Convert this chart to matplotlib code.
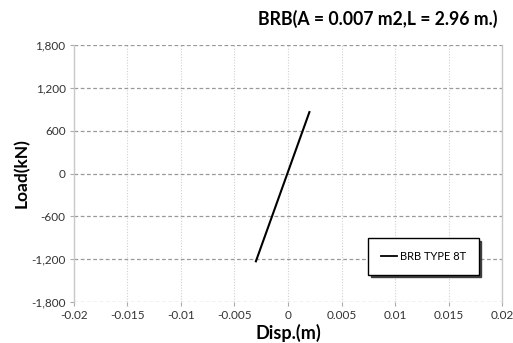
import matplotlib
matplotlib.use("Agg")
import matplotlib.pyplot as plt

# Load–displacement data for the brace
disp = [-0.003, 0.002]
load = [-1230, 860]
series_name = "BRB TYPE 8T"
title = "BRB(A = 0.007 m2,L = 2.96 m.)"

x_ticks = [-0.02, -0.015, -0.01, -0.005, 0, 0.005, 0.01, 0.015, 0.02]
x_labels = ["-0.02", "-0.015", "-0.01", "-0.005", "0", "0.005", "0.01", "0.015", "0.02"]
y_ticks = [-1800, -1200, -600, 0, 600, 1200, 1800]
y_labels = ["-1,800", "-1,200", "-600", "0", "600", "1,200", "1,800"]

plt.rcParams['font.family'] = ['Lato', 'DejaVu Sans']

fig = plt.figure(figsize=(5.13, 3.43), dpi=100)
ax = fig.add_axes([0.1442, 0.1195, 0.8344, 0.7493])

ax.plot(disp, load, color="black", lw=1.5, label=series_name, zorder=3)

ax.set_xlim(-0.02, 0.02)
ax.set_ylim(-1800, 1800)
ax.set_xticks(x_ticks)
ax.set_xticklabels(x_labels)
ax.set_yticks(y_ticks)
ax.set_yticklabels(y_labels)
ax.tick_params(axis="both", labelsize=8.5, colors="#333333", length=3, width=0.8,
               direction="out", pad=3)
ax.tick_params(axis="both", color="#aaaaaa")

# grid: dashed horizontals, faint dotted verticals
ax.yaxis.grid(True, linestyle=(0, (3, 2)), color="#999999", lw=0.9)
ax.xaxis.grid(True, linestyle=(0, (1, 1.5)), color="#d0d0d0", lw=0.8)
ax.set_axisbelow(True)

for s in ("left", "right"):
    ax.spines[s].set_color("#c8c8c8")
    ax.spines[s].set_linewidth(1.0)
for s in ("top", "bottom"):
    ax.spines[s].set_visible(False)

ax.set_xlabel("Disp.(m)", fontsize=13, fontweight="bold", labelpad=2)
ax.set_ylabel("Load(kN)", fontsize=12.5, fontweight="bold", labelpad=1)

fig.text(0.97, 0.945, title, fontsize=12.7, fontweight="bold", ha="right", va="center")

leg = ax.legend(loc="upper left", bbox_to_anchor=(0.687, 0.249), fontsize=8,
                frameon=True, fancybox=False, shadow={"color": "#333333", "alpha": 0.9},
                handlelength=1.5, borderpad=1.15, borderaxespad=0, handletextpad=0.2)
frame = leg.get_frame()
frame.set_edgecolor("black")
frame.set_linewidth(1.0)
leg.get_lines()[0].set_linewidth(1.3)

fig.savefig("out.png", dpi=100)
